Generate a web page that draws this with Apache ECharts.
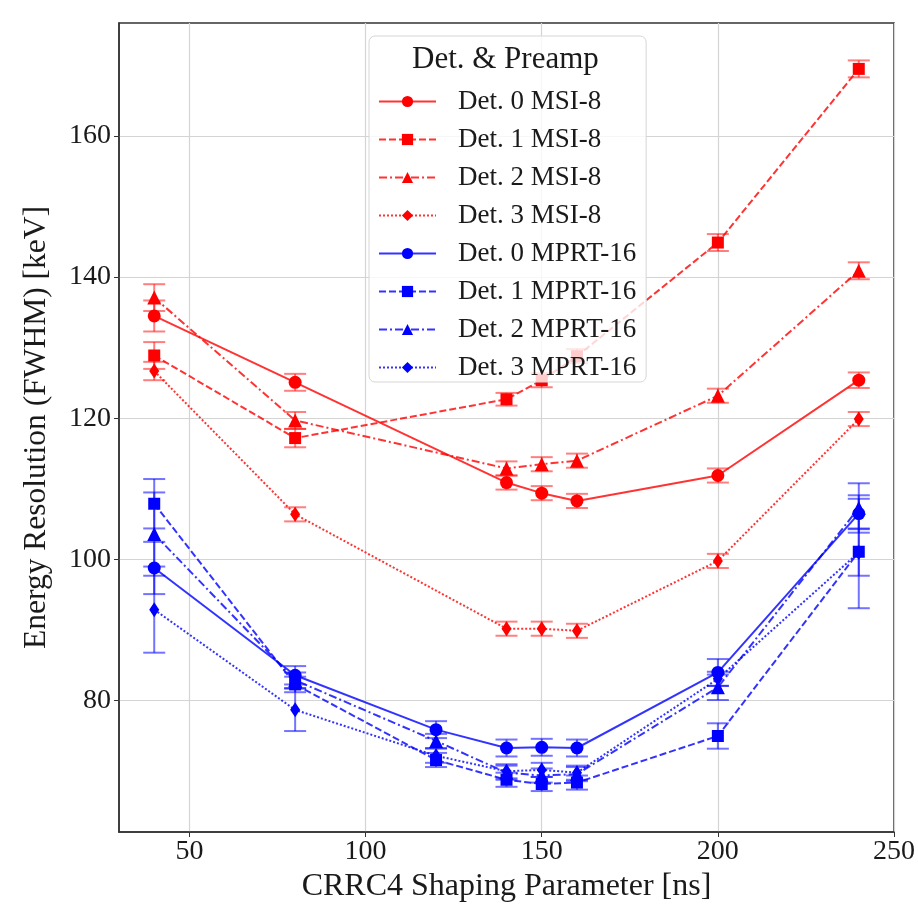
<!DOCTYPE html>
<html>
<head>
<meta charset="utf-8">
<script src="https://cdn.jsdelivr.net/npm/echarts@6/dist/echarts.min.js"></script>
<style>html,body{margin:0;padding:0;background:#fff}#c{width:918px;height:908px}</style>
</head>
<body>
<div id="c"></div>
<script>
// ---- data ----
const xRed  = [40, 80, 140, 150, 160, 200, 240];
const xBlue = [40, 80, 120, 140, 150, 160, 200, 240];

const msi0 = [134.5, 125.1, 110.9, 109.4, 108.3, 111.9, 125.4];
const msi1 = [128.9, 117.2, 122.7, 125.4, 128.8, 144.9, 169.5];
const msi2 = [137.1, 119.7, 112.9, 113.5, 114.0, 123.2, 140.9];
const msi3 = [126.7, 106.4, 90.2, 90.2, 89.9, 99.8, 119.9];
const msi0Err = [2.2, 1.2, 1.0, 1.0, 1.0, 1.0, 1.1];
const msi1Err = [1.9, 1.3, 0.9, 1.0, 1.0, 1.2, 1.2];
const msi2Err = [1.9, 1.2, 1.0, 1.0, 1.0, 1.0, 1.2];
const msi3Err = [1.3, 1.0, 1.0, 1.0, 1.0, 1.0, 1.0];

const mprt0 = [98.8, 83.6, 75.9, 73.3, 73.4, 73.3, 84.0, 106.5];
const mprt1 = [107.9, 82.3, 71.6, 68.8, 68.2, 68.4, 75.0, 101.1];
const mprt2 = [103.6, 82.9, 74.3, 69.8, 69.4, 69.6, 81.9, 107.3];
const mprt3 = [92.9, 78.7, 72.2, 70.0, 70.2, 69.8, 83.1, 101.0];
const mprt0Err = [3.7, 1.3, 1.2, 1.2, 1.2, 1.2, 1.9, 2.1];
const mprt1Err = [3.5, 1.1, 1.0, 1.0, 1.0, 1.0, 1.8, 8.0];
const mprt2Err = [5.9, 1.1, 1.0, 1.0, 1.0, 1.0, 1.8, 3.5];
const mprt3Err = [6.1, 3.0, 1.0, 1.0, 1.0, 1.0, 1.0, 3.3];

const names = ['Det. 0 MSI-8','Det. 1 MSI-8','Det. 2 MSI-8','Det. 3 MSI-8',
               'Det. 0 MPRT-16','Det. 1 MPRT-16','Det. 2 MPRT-16','Det. 3 MPRT-16'];
const xTickLabels = [50, 100, 150, 200, 250];
const yTickLabels = [80, 100, 120, 140, 160];

// ---- styles ----
const FONT = '"Liberation Serif", "Times New Roman", serif';
const RED = '#ff0000', BLUE = '#0000ff';
const dashTypes = ['solid', [7, 3], [8, 3, 2, 3], [2, 2]];
const symbols = ['circle', 'rect', 'triangle', 'diamond'];
const symSizes = [13, 12, 14, [10, 15]];

const groups = [
  {x: xRed, ys: [msi0, msi1, msi2, msi3], es: [msi0Err, msi1Err, msi2Err, msi3Err], color: RED, lc: 'rgba(255,0,0,0.8)', ec: 'rgba(255,0,0,0.5)'},
  {x: xBlue, ys: [mprt0, mprt1, mprt2, mprt3], es: [mprt0Err, mprt1Err, mprt2Err, mprt3Err], color: BLUE, lc: 'rgba(0,0,255,0.8)', ec: 'rgba(0,0,255,0.55)'}
];

function makeErr(color) {
  return function (params, api) {
    const x = api.value(0), y = api.value(1), e = api.value(2);
    const t = api.coord([x, y + e]), b = api.coord([x, y - e]);
    const hw = 11;
    const st = {stroke: color, lineWidth: 2};
    return {type: 'group', children: [
      {type: 'line', shape: {x1: t[0], y1: t[1], x2: b[0], y2: b[1]}, style: st},
      {type: 'line', shape: {x1: t[0] - hw, y1: t[1], x2: t[0] + hw, y2: t[1]}, style: st},
      {type: 'line', shape: {x1: b[0] - hw, y1: b[1], x2: b[0] + hw, y2: b[1]}, style: st}
    ]};
  };
}

const series = [];
groups.forEach((g, gi) => {
  g.ys.forEach((ys, i) => {
    const name = names[gi * 4 + i];
    series.push({
      type: 'custom', name: name + ' err', renderItem: makeErr(g.ec),
      data: g.x.map((x, k) => [x, ys[k], g.es[i][k]]),
      encode: {x: 0, y: 1}, z: 2 + gi * 2, silent: true
    });
    series.push({
      type: 'line', name: name,
      data: g.x.map((x, k) => [x, ys[k]]),
      symbol: symbols[i], symbolSize: symSizes[i], showSymbol: true,
      itemStyle: {color: g.color, opacity: 1},
      lineStyle: {color: g.lc, width: 2, type: dashTypes[i]},
      z: 3 + gi * 2, animation: false
    });
  });
});

const chart = echarts.init(document.getElementById('c'), null, {renderer: 'canvas'});
chart.setOption({
  animation: false,
  backgroundColor: '#ffffff',
  grid: {left: 119, top: 23, width: 778, height: 809, show: true, borderColor: '#333', borderWidth: 1.5, containLabel: false},
  xAxis: {
    type: 'value', min: 30, max: 250, splitNumber: 5,
    name: 'CRRC4 Shaping Parameter [ns]', nameLocation: 'middle', nameGap: 33,
    nameTextStyle: {fontFamily: FONT, fontSize: 32, color: '#1a1a1a'},
    axisLine: {show: true, lineStyle: {color: '#333', width: 1.5}},
    axisTick: {show: true, length: 5, inside: false, lineStyle: {color: '#333'},
      customValues: xTickLabels},
    axisLabel: {fontFamily: FONT, fontSize: 28, color: '#1a1a1a', margin: 6,
      customValues: xTickLabels,
      formatter: v => (xTickLabels.indexOf(v) >= 0 ? String(v) : '')},
    splitLine: {show: true, lineStyle: {color: '#d4d4d4', width: 1.2}}
  },
  yAxis: {
    type: 'value', min: 61.4, max: 176, splitNumber: 5,
    name: 'Energy Resolution (FWHM) [keV]', nameLocation: 'middle', nameGap: 66,
    nameTextStyle: {fontFamily: FONT, fontSize: 31.5, color: '#1a1a1a'},
    axisLine: {show: true, lineStyle: {color: '#333', width: 1.5}},
    axisTick: {show: true, length: 5, lineStyle: {color: '#333'},
      customValues: yTickLabels},
    axisLabel: {fontFamily: FONT, fontSize: 28, color: '#1a1a1a', margin: 8,
      customValues: yTickLabels,
      formatter: v => (yTickLabels.indexOf(v) >= 0 ? String(v) : '')},
    splitLine: {show: true, lineStyle: {color: '#d4d4d4', width: 1.2}}
  },
  legend: {
    orient: 'vertical', left: 369, top: 36,
    padding: [52, 10, 1, 9],
    backgroundColor: 'rgba(255,255,255,0.8)', borderColor: '#d6d6d6', borderWidth: 1, borderRadius: 6,
    data: names, itemWidth: 57, itemHeight: 14, itemGap: 11,
    textStyle: {fontFamily: FONT, fontSize: 27, color: '#1a1a1a', padding: [0, 0, 0, 17]},
    selectedMode: false, z: 20
  },
  graphic: [{
    type: 'text', left: 412, top: 44, z: 100,
    style: {text: 'Det. & Preamp', font: '31px ' + FONT, fill: '#1a1a1a'}
  }],
  series: series
});
</script>
</body>
</html>
